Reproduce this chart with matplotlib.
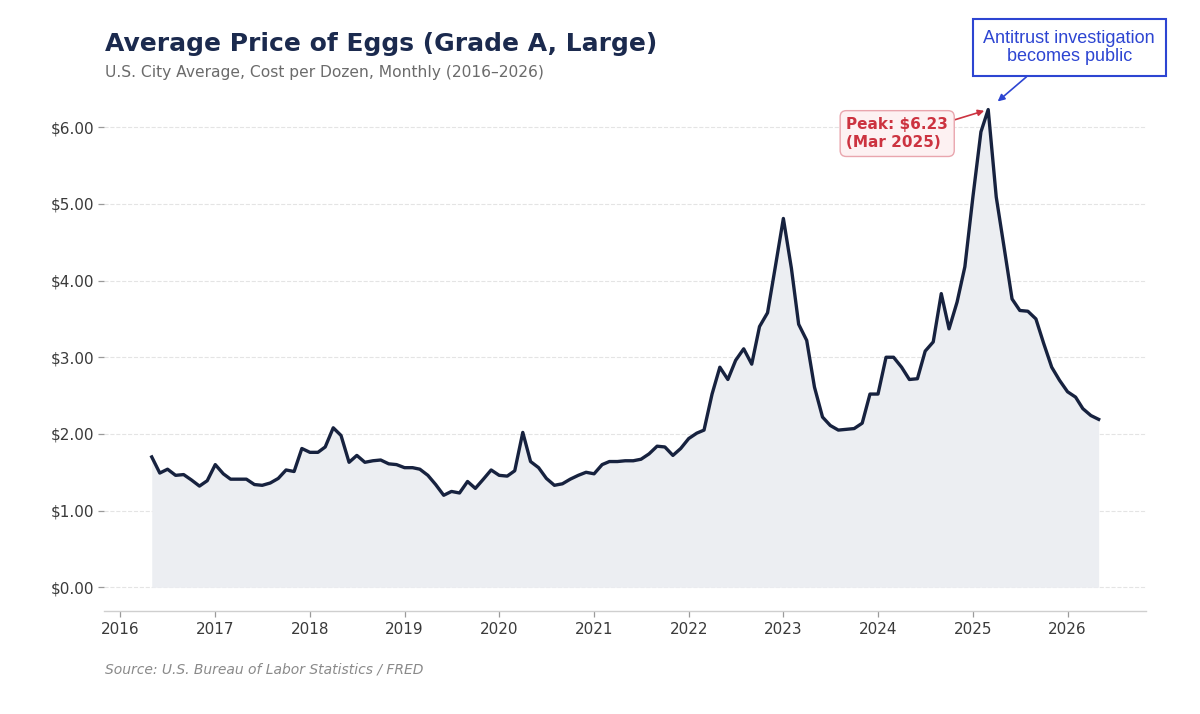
import matplotlib
matplotlib.use("Agg")
import matplotlib.pyplot as plt
import matplotlib.dates as mdates
import pandas as pd
import numpy as np

# ---- data (monthly, May 2016 - May 2026) ----
start_month = "2016-05-01"
prices_2016 = [1.70, 1.49, 1.54, 1.46, 1.47, 1.40, 1.32, 1.39]
prices_2017 = [1.60, 1.48, 1.41, 1.41, 1.41, 1.34, 1.33, 1.36, 1.42, 1.53, 1.51, 1.81]
prices_2018 = [1.76, 1.76, 1.83, 2.08, 1.98, 1.63, 1.72, 1.63, 1.65, 1.66, 1.61, 1.60]
prices_2019 = [1.56, 1.56, 1.54, 1.46, 1.34, 1.20, 1.25, 1.23, 1.38, 1.29, 1.41, 1.53]
prices_2020 = [1.46, 1.45, 1.52, 2.02, 1.64, 1.56, 1.42, 1.33, 1.35, 1.41, 1.46, 1.50]
prices_2021 = [1.48, 1.60, 1.64, 1.64, 1.65, 1.65, 1.67, 1.74, 1.84, 1.83, 1.72, 1.81]
prices_2022 = [1.94, 2.01, 2.05, 2.52, 2.87, 2.71, 2.96, 3.11, 2.91, 3.40, 3.58, 4.18]
prices_2023 = [4.81, 4.16, 3.43, 3.22, 2.61, 2.22, 2.11, 2.05, 2.06, 2.07, 2.14, 2.52]
prices_2024 = [2.52, 3.00, 3.00, 2.87, 2.71, 2.72, 3.08, 3.20, 3.83, 3.37, 3.72, 4.18]
prices_2025 = [5.09, 5.94, 6.23, 5.09, 4.44, 3.76, 3.61, 3.60, 3.50, 3.18, 2.87, 2.70]
prices_2026 = [2.55, 2.48, 2.33, 2.24, 2.19]

yticks = [0, 1, 2, 3, 4, 5, 6]
title = "Average Price of Eggs (Grade A, Large)"
subtitle = "U.S. City Average, Cost per Dozen, Monthly (2016\u20132026)"
source = "Source: U.S. Bureau of Labor Statistics / FRED"
peak_label = "Peak: $6.23\n(Mar 2025)"
event_label = "Antitrust investigation\nbecomes public"

prices = (prices_2016 + prices_2017 + prices_2018 + prices_2019 + prices_2020 +
          prices_2021 + prices_2022 + prices_2023 + prices_2024 + prices_2025 +
          prices_2026)
dates = pd.date_range(start_month, periods=len(prices), freq="MS")
prices = np.array(prices)

# ---- figure ----
fig = plt.figure(figsize=(12, 7.14), dpi=100)
fig.patch.set_facecolor("white")
ax = fig.add_axes([0.087, 0.144, 0.868, 0.736])

navy = "#17223f"
ax.fill_between(dates, prices, 0, color="#eceef2", zorder=1, linewidth=0)
ax.plot(dates, prices, color=navy, linewidth=2.4, zorder=3)

ax.set_yticks(yticks)
ax.yaxis.set_major_formatter(matplotlib.ticker.FuncFormatter(lambda v, p: f"${v:.2f}"))
ax.xaxis.set_major_locator(mdates.YearLocator())
ax.xaxis.set_major_formatter(mdates.DateFormatter("%Y"))

for s in ["top", "right", "left"]:
    ax.spines[s].set_visible(False)
ax.spines["bottom"].set_color("#cfcfcf")
ax.spines["bottom"].set_linewidth(1.0)
ax.tick_params(axis="both", colors="#9a9a9a", labelcolor="#3a3a3a", labelsize=11, length=4, width=0.9)
ax.grid(axis="y", color="#e4e4e4", linestyle="--", linewidth=0.8, zorder=0)
ax.set_axisbelow(True)

# ---- annotations ----
i_peak = int(np.argmax(prices))
peak_x, peak_y = dates[i_peak], prices[i_peak]

ax.annotate(peak_label, xy=(peak_x, peak_y), xytext=(-91, -24), textcoords="offset pixels",
            ha="center", va="center", multialignment="left",
            fontsize=11, fontweight="bold", color="#cc3340", linespacing=1.3,
            bbox=dict(boxstyle="round,pad=0.4", facecolor="#fdf1f2", edgecolor="#e9a6ae", linewidth=1.0),
            arrowprops=dict(arrowstyle="-|>", color="#cc3340", lw=1.2, mutation_scale=9,
                            relpos=(1.0, 0.85), shrinkA=0, shrinkB=3),
            zorder=5)

ax.annotate(event_label, xy=(peak_x, peak_y), xytext=(81, 62), textcoords="offset pixels",
            ha="center", va="center", fontsize=13, color="#2d45d2", family="Liberation Sans",
            linespacing=1.1,
            bbox=dict(boxstyle="square,pad=0.6", facecolor="white", edgecolor="#2d45d2", linewidth=1.5),
            arrowprops=dict(arrowstyle="-|>", color="#2d45d2", lw=1.2, mutation_scale=10,
                            relpos=(0.33, 0.0), shrinkA=0, shrinkB=9),
            annotation_clip=False, zorder=5)

# ---- titles ----
fig.text(0.0875, 0.938, title, fontsize=18, fontweight="bold", color="#1b2a4e", va="center", ha="left")
fig.text(0.0875, 0.899, subtitle, fontsize=11.2, color="#6b6b6b", va="center", ha="left")
fig.text(0.0875, 0.063, source, fontsize=10, style="italic", color="#8a8a8a", va="center", ha="left")

fig.savefig("out.png", dpi=100, facecolor="white")
